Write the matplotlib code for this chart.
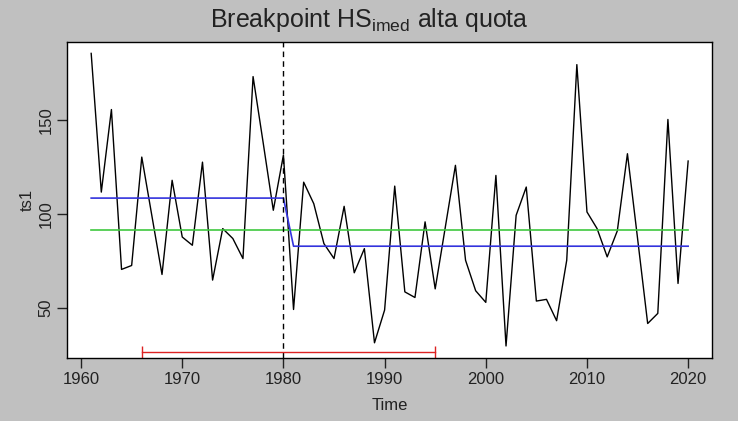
import matplotlib
matplotlib.use('Agg')
import matplotlib.pyplot as plt

plt.rcParams['font.family'] = ['Liberation Sans', 'DejaVu Sans']
plt.rcParams['mathtext.fontset'] = 'custom'
plt.rcParams['mathtext.rm'] = 'Liberation Sans'
plt.rcParams['mathtext.it'] = 'Liberation Sans'

# yearly series, 1961-2020
years = list(range(1961, 2021))
ts1 = [185.8, 111.7, 155.8, 70.4, 72.5, 130.4, 99.0, 67.7, 118.0, 87.7,
       83.3, 127.7, 64.7, 92.2, 86.9, 76.2, 173.4, 138.0, 102.0, 131.5,
       49.0, 117.0, 105.5, 84.2, 76.2, 104.1, 68.6, 81.5, 31.2, 48.7,
       114.9, 58.4, 55.4, 95.8, 60.0, 93.0, 126.0, 75.3, 59.0, 52.8,
       120.6, 29.5, 99.3, 114.4, 53.5, 54.4, 43.0, 75.3, 179.8, 101.1,
       92.2, 77.1, 91.0, 132.2, 87.0, 41.5, 46.9, 150.5, 62.9, 128.3]

# breakpoint model
break_year = 1980
mean_all = 91.3
mean_before = 108.5
mean_after = 82.8
ci_low, ci_high = 1966, 1995
ci_level = 26.1

fitted = [mean_before if y <= break_year else mean_after for y in years]

bg = '#c0c0c0'
txt = '#222222'

fig = plt.figure(figsize=(7.38, 4.21), dpi=100, facecolor=bg)
ax = fig.add_axes([0.0912, 0.1504, 0.8736, 0.7506])
ax.set_facecolor('white')

ax.plot(years, ts1, color='black', lw=1.0)
ax.plot([years[0], years[-1]], [mean_all, mean_all], color='#3fc83f', lw=1.2)
ax.plot(years, fitted, color='#3333dd', lw=1.2)
ax.axvline(break_year, color='black', lw=1.0, ls=(0, (4, 3)))
ax.plot([ci_low, ci_high], [ci_level, ci_level], color='#dd2222', lw=1.0,
        marker='|', markersize=8, markeredgewidth=1.0)

x0, x1 = years[0], years[-1]
dx = (x1 - x0) * 0.04
ax.set_xlim(x0 - dx, x1 + dx)
y0, y1 = min(ts1), max(ts1)
dy = (y1 - y0) * 0.04
ax.set_ylim(y0 - dy, y1 + dy)

ax.set_xticks([1960, 1970, 1980, 1990, 2000, 2010, 2020])
ax.set_yticks([50, 100, 150])
ax.tick_params(direction='out', length=7, width=1, colors=txt, labelsize=12, pad=3)
for lab in ax.get_yticklabels():
    lab.set_rotation(90)
    lab.set_va('center')
for s in ax.spines.values():
    s.set_color('black')
    s.set_linewidth(1)

ax.set_xlabel('Time', fontsize=12, color=txt, labelpad=8)
ax.set_ylabel('ts1', fontsize=12, color=txt, labelpad=3)
fig.text(0.5, 0.952, r'Breakpoint HS$_{\mathrm{imed}}$ alta quota', ha='center', va='center',
         fontsize=18, color=txt)

fig.savefig('out.png', dpi=100, facecolor=bg)
